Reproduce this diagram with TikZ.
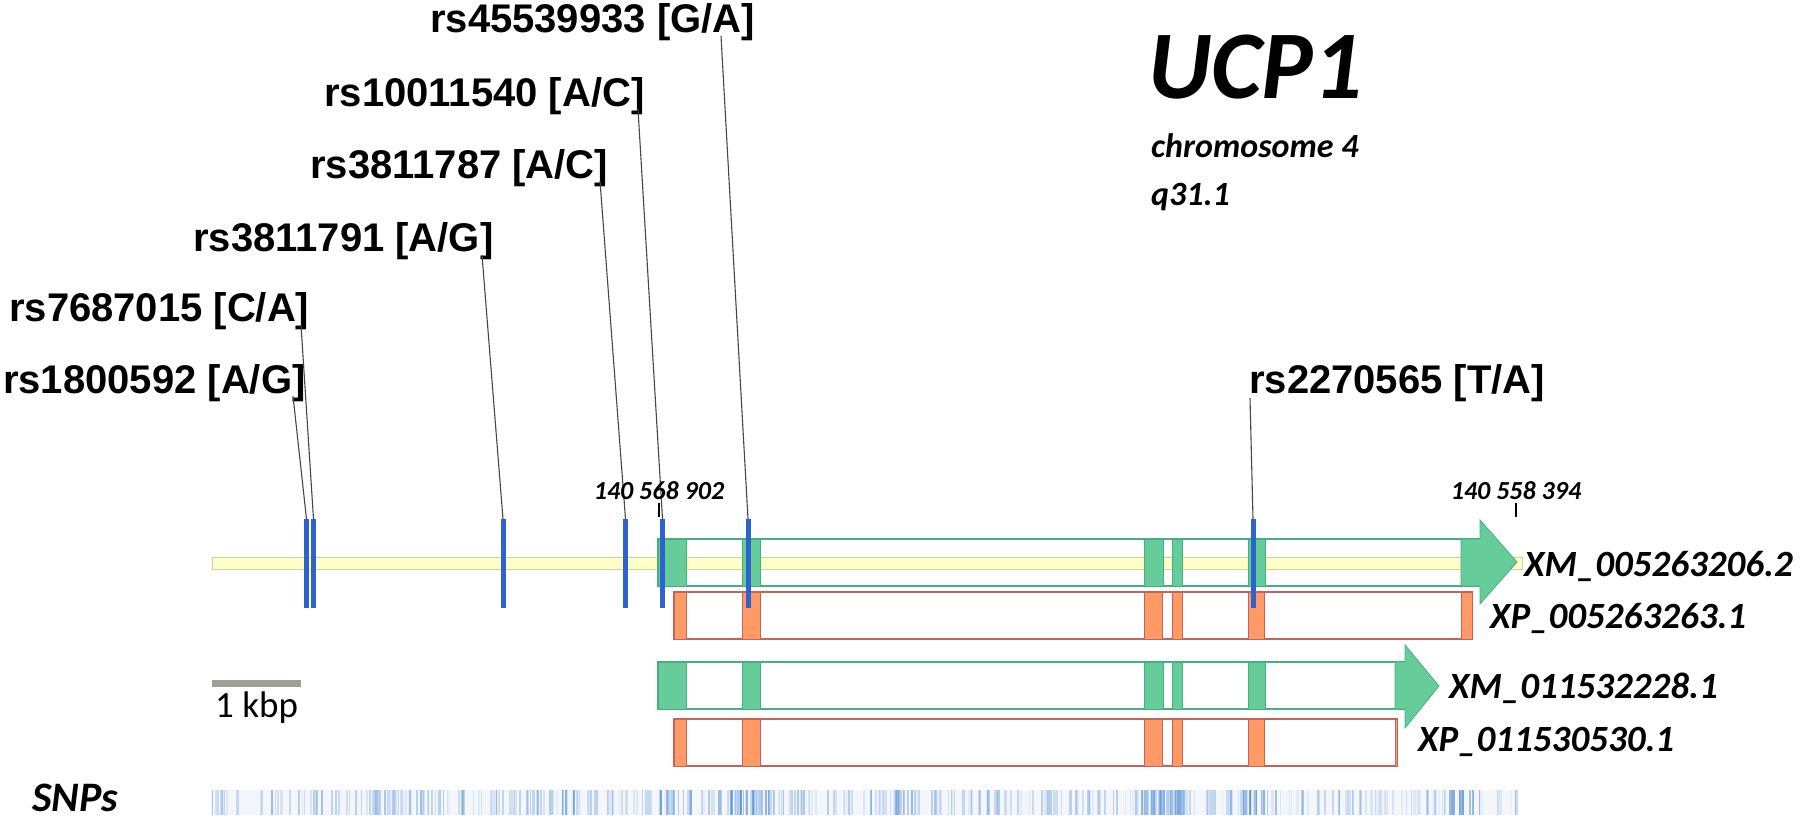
\documentclass[tikz,border=0pt]{standalone}
\usepackage{fontspec}
\setmainfont{Liberation Sans}
\newfontfamily\calib{Carlito}
\definecolor{barblue}{RGB}{46,98,204}
\definecolor{exgreen}{RGB}{102,204,153}
\definecolor{exgreenline}{RGB}{70,175,130}
\definecolor{exorange}{RGB}{255,153,102}
\definecolor{exorangeline}{RGB}{195,100,90}
\definecolor{axisyellow}{RGB}{255,255,200}
\definecolor{axisedge}{RGB}{210,210,150}
\definecolor{scalegray}{RGB}{160,160,150}
\definecolor{snpblue}{RGB}{90,145,215}
\definecolor{linegray}{RGB}{70,70,70}
\begin{document}
\begin{tikzpicture}[x=1pt,y=-1pt,
  rslab/.style={font=\fontsize{40}{44}\selectfont\bfseries, anchor=base west, inner sep=0pt},
  trlab/.style={font=\calib\fontsize{37}{40}\selectfont\bfseries\itshape, anchor=base west, inner sep=0pt},
  numlab/.style={font=\calib\fontsize{26}{28}\selectfont\bfseries\itshape, anchor=base, inner sep=0pt},
  conn/.style={draw=linegray, line width=1.1pt},
  snpbar/.style={fill=barblue, draw=none, minimum width=5pt, minimum height=89pt, inner sep=0pt, anchor=north},
  gbox/.style={draw=exgreenline, line width=1.3pt},
  obox/.style={draw=exorangeline, line width=1.3pt},
  gexon/.style={fill=exgreen, draw=exgreenline, line width=0.8pt},
  oexon/.style={fill=exorange, draw=exorangeline, line width=0.8pt},
  tickmark/.style={draw=black, line width=1.3pt}
]
\useasboundingbox (0,0) rectangle (1800,819);

% genome axis
\draw[fill=axisyellow, draw=axisedge, line width=1pt] (212,557) rectangle (1522,569);

% track 1 (mRNA)
\draw[gbox] (658,539) rectangle (1480,586);
\foreach \a/\b in {658/686, 742/760, 1144/1163, 1172/1182, 1248/1265}
  \draw[gexon] (\a,539) rectangle (\b,586);
\draw[gexon] (1461,539) -- (1480,539) -- (1480,520) -- (1517,562) -- (1480,604) -- (1480,586) -- (1461,586) -- cycle;

% track 1 protein
\draw[obox] (674,592) rectangle (1472,639);
\foreach \a/\b in {674/686, 742/760, 1144/1162, 1172/1182, 1248/1264, 1461/1472}
  \draw[oexon] (\a,592) rectangle (\b,639);

% track 2 (mRNA)
\draw[gbox] (658,662) rectangle (1405,709);
\foreach \a/\b in {658/686, 742/760, 1144/1163, 1172/1182, 1248/1265}
  \draw[gexon] (\a,662) rectangle (\b,709);
\draw[gexon] (1395,662) -- (1405,662) -- (1405,645) -- (1439,686) -- (1405,728) -- (1405,709) -- (1395,709) -- cycle;

% track 2 protein
\draw[obox] (674,719) rectangle (1397,766);
\foreach \a/\b in {674/686, 742/760, 1144/1162, 1172/1182, 1248/1264, 1395/1397}
  \draw[oexon] (\a,719) rectangle (\b,766);

% SNP bars
\node[snpbar] (b1) at (306.5,519) {};
\node[snpbar] (b2) at (313.5,519) {};
\node[snpbar] (b3) at (503,519) {};
\node[snpbar] (b4) at (625.5,519) {};
\node[snpbar] (b5) at (662.5,519) {};
\node[snpbar] (b6) at (748,519) {};
\node[snpbar] (b7) at (1253,519) {};

% labels
\node[rslab] (r6) at (430,32) {rs45539933 [G/A]};
\node[rslab] (r5) at (324,106) {rs10011540 [A/C]};
\node[rslab] (r4) at (310,178) {rs3811787 [A/C]};
\node[rslab] (r3) at (193,251) {rs3811791 [A/G]};
\node[rslab] (r2) at (9,321) {rs7687015 [C/A]};
\node[rslab] (r1) at (3,393) {rs1800592 [A/G]};
\node[rslab] (r7) at (1249,393) {rs2270565 [T/A]};

\coordinate (c6) at (721,36);
\coordinate (c5) at (638,109);
\coordinate (c4) at (600,181);
\coordinate (c3) at (482,255);
\coordinate (c2) at (301,325);
\coordinate (c1) at (293,396);
\coordinate (c7) at (1250,398);
\draw[conn] (c1) -- (b1.north);
\draw[conn] (c2) -- (b2.north);
\draw[conn] (c3) -- (b3.north);
\draw[conn] (c4) -- (b4.north);
\draw[conn] (c5) -- (b5.north);
\draw[conn] (c6) -- (b6.north);
\draw[conn] (c7) -- (b7.north);

% title
\node[font=\calib\fontsize{97}{100}\selectfont\bfseries\itshape, anchor=base west, inner sep=0pt] (title) at (1148,98) {UCP1};
\node[font=\calib\fontsize{34}{36}\selectfont\bfseries\itshape, anchor=base west, inner sep=0pt] (chr) at (1151,157) {chromosome 4};
\node[font=\calib\fontsize{34}{36}\selectfont\bfseries\itshape, anchor=base west, inner sep=0pt] (band) at (1151,205) {q31.1};

% coordinates ticks
\coordinate (t1) at (659,503);
\coordinate (t2) at (1516,503);
\draw[tickmark] (t1) -- ++(0,14);
\draw[tickmark] (t2) -- ++(0,14);
\node[numlab] (n1) at (659,499) {140 568 902};
\node[numlab] (n2) at (1516,499) {140 558 394};

% track labels
\node[trlab] (xm1) at (1524,576) {XM\_005263206.2};
\node[trlab] (xp1) at (1490,628) {XP\_005263263.1};
\node[trlab] (xm2) at (1449,698) {XM\_011532228.1};
\node[trlab] (xp2) at (1418,751) {XP\_011530530.1};

% scale bar
\fill[scalegray] (212,680) rectangle (301,687);
\node[font=\calib\fontsize{37}{40}\selectfont, anchor=base west, inner sep=0pt] (kbp) at (215,717) {1 kbp};

% SNP density
\node[font=\calib\fontsize{42}{44}\selectfont\bfseries\itshape, anchor=base west, inner sep=0pt] (snps) at (32,811) {SNPs};
\fill[snpblue, opacity=0.07] (212,790) rectangle (1518,815);
\pgfmathsetseed{7}
\foreach \i in {1,...,420}{
  \pgfmathsetmacro{\xx}{212+1306*rnd}
  \pgfmathsetmacro{\op}{0.08+0.32*rnd}
  \pgfmathsetmacro{\lw}{1+1.6*rnd}
  \draw[snpblue, opacity=\op, line width=\lw pt] (\xx,790) -- (\xx,815);
}
\foreach \c/\w/\n in {570/8/6, 676/18/14, 747/22/24, 1163/22/26, 1255/12/12, 1462/13/12, 905/10/5}{
  \foreach \j in {1,...,\n}{
    \pgfmathsetmacro{\xx}{\c+\w*(2*rnd-1)}
    \pgfmathsetmacro{\op}{0.25+0.4*rnd}
    \draw[snpblue, opacity=\op, line width=1.6pt] (\xx,790) -- (\xx,815);
  }
}
\end{tikzpicture}
\end{document}
